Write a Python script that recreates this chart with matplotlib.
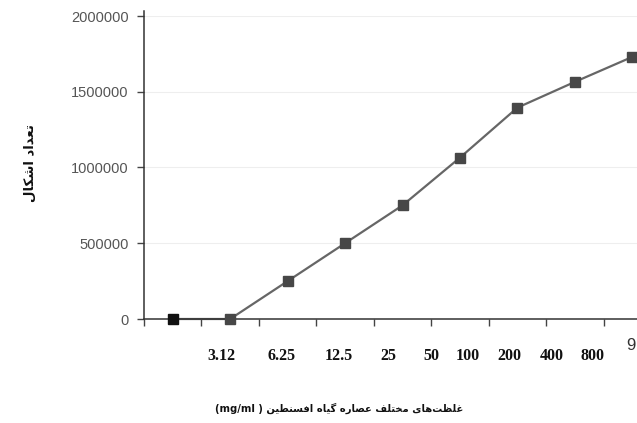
import matplotlib
matplotlib.use('Agg')
import matplotlib.pyplot as plt

# data
points = [0, 1, 2, 3, 4, 5, 6, 7, 8]
counts = [0, 0, 250000, 500000, 750000, 1065000, 1395000, 1565000, 1730000]
conc_labels = ['3.12', '6.25', '12.5', '25', '50', '100', '200', '400', '800']
y_ticks = [0, 500000, 1000000, 1500000, 2000000]

y_title = 'تعداد اشکال'
x_title = 'غلظت\u200cهای مختلف عصاره گیاه افسنطین'

# arabic presentation forms: isolated, final, initial, medial
FORMS = {
    'ا': ('\uFE8D', '\uFE8E', None, None),
    'د': ('\uFEA9', '\uFEAA', None, None),
    'ر': ('\uFEAD', '\uFEAE', None, None),
    'ت': ('\uFE95', '\uFE96', '\uFE97', '\uFE98'),
    'ع': ('\uFEC9', '\uFECA', '\uFECB', '\uFECC'),
    'ش': ('\uFEB5', '\uFEB6', '\uFEB7', '\uFEB8'),
    'ک': ('\uFB8E', '\uFB8F', '\uFB90', '\uFB91'),
    'ل': ('\uFEDD', '\uFEDE', '\uFEDF', '\uFEE0'),
    'غ': ('\uFECD', '\uFECE', '\uFECF', '\uFED0'),
    'ظ': ('\uFEC5', '\uFEC6', '\uFEC7', '\uFEC8'),
    'ه': ('\uFEE9', '\uFEEA', '\uFEEB', '\uFEEC'),
    'ی': ('\uFBFC', '\uFBFD', '\uFBFE', '\uFBFF'),
    'م': ('\uFEE1', '\uFEE2', '\uFEE3', '\uFEE4'),
    'خ': ('\uFEA5', '\uFEA6', '\uFEA7', '\uFEA8'),
    'ف': ('\uFED1', '\uFED2', '\uFED3', '\uFED4'),
    'ص': ('\uFEB9', '\uFEBA', '\uFEBB', '\uFEBC'),
    'گ': ('\uFB92', '\uFB93', '\uFB94', '\uFB95'),
    'ن': ('\uFEE5', '\uFEE6', '\uFEE7', '\uFEE8'),
    'ط': ('\uFEC1', '\uFEC2', '\uFEC3', '\uFEC4'),
    'س': ('\uFEB1', '\uFEB2', '\uFEB3', '\uFEB4'),
}


def shape(text):
    out = []
    for i, c in enumerate(text):
        if c not in FORMS:
            out.append(c)
            continue
        prev = text[i - 1] if i > 0 else None
        nxt = text[i + 1] if i + 1 < len(text) else None
        join_prev = prev in FORMS and FORMS[prev][2] is not None
        join_next = nxt in FORMS and FORMS[c][2] is not None
        f = FORMS[c]
        if join_prev and join_next:
            out.append(f[3])
        elif join_prev:
            out.append(f[1])
        elif join_next:
            out.append(f[2])
        else:
            out.append(f[0])
    return ''.join(out)[::-1].replace('\u200c', '')


fig = plt.figure(figsize=(6.37, 4.23), dpi=100)
ax = fig.add_axes([144 / 637, 104 / 423, 517 / 637, 303 / 423])

ax.plot(points, counts, color='#666666', lw=1.6, zorder=2, clip_on=False)
ax.plot(points[1:], counts[1:], ls='none', marker='s', ms=6.8,
        color='#474747', zorder=3, clip_on=False)
ax.plot(points[:1], counts[:1], ls='none', marker='s', ms=6.8,
        color='#111111', zorder=3, clip_on=False)

ax.set_xlim(-0.5, 8.5)
ax.set_ylim(0, 2000000)
ax.set_yticks(y_ticks)
ax.set_yticklabels([str(v) for v in y_ticks], family='Liberation Sans',
                   fontsize=10.5, color='#555555')
ax.set_xticks([i - 0.5 for i in range(9)])
ax.set_xticklabels([])
ax.tick_params(axis='x', length=5, width=1, color='#444444', direction='out')
ax.tick_params(axis='y', length=5, width=1, color='#444444', direction='out', pad=6)

for s in ['top', 'right']:
    ax.spines[s].set_visible(False)
for s in ['left', 'bottom']:
    ax.spines[s].set_color('#333333')
    ax.spines[s].set_linewidth(1.1)
ax.spines['left'].set_bounds(0, 2030000)
ax.spines['left'].set_clip_on(False)
ax.grid(axis='y', color='#eeeeee', lw=0.8)
ax.set_axisbelow(True)

# category labels, irregularly placed as in the original
label_x = [0.85, 1.9, 2.9, 3.76, 4.5, 5.13, 5.86, 6.6, 7.3]
for lx, lab in zip(label_x, conc_labels):
    ax.text(lx, -0.122, lab, transform=ax.get_xaxis_transform(), ha='center',
            va='center', family='Liberation Serif', fontweight='bold',
            fontsize=11.5, color='#111111')
fig.text(636 / 637, 1 - 346 / 423, '9', ha='right', va='center',
         family='Liberation Sans', fontsize=12, color='#333333')

fig.text(30 / 637, 1 - 163 / 423, shape(y_title), rotation=90, ha='center',
         va='center', family='DejaVu Sans', fontweight='bold', fontsize=9.5,
         color='#111111')
fig.text(339 / 637, 1 - 408 / 423, '(mg/ml ) ' + shape(x_title), ha='center',
         va='center', family='DejaVu Sans', fontweight='bold', fontsize=7.2,
         color='#111111')

fig.savefig('out.png', dpi=100, facecolor='white')
